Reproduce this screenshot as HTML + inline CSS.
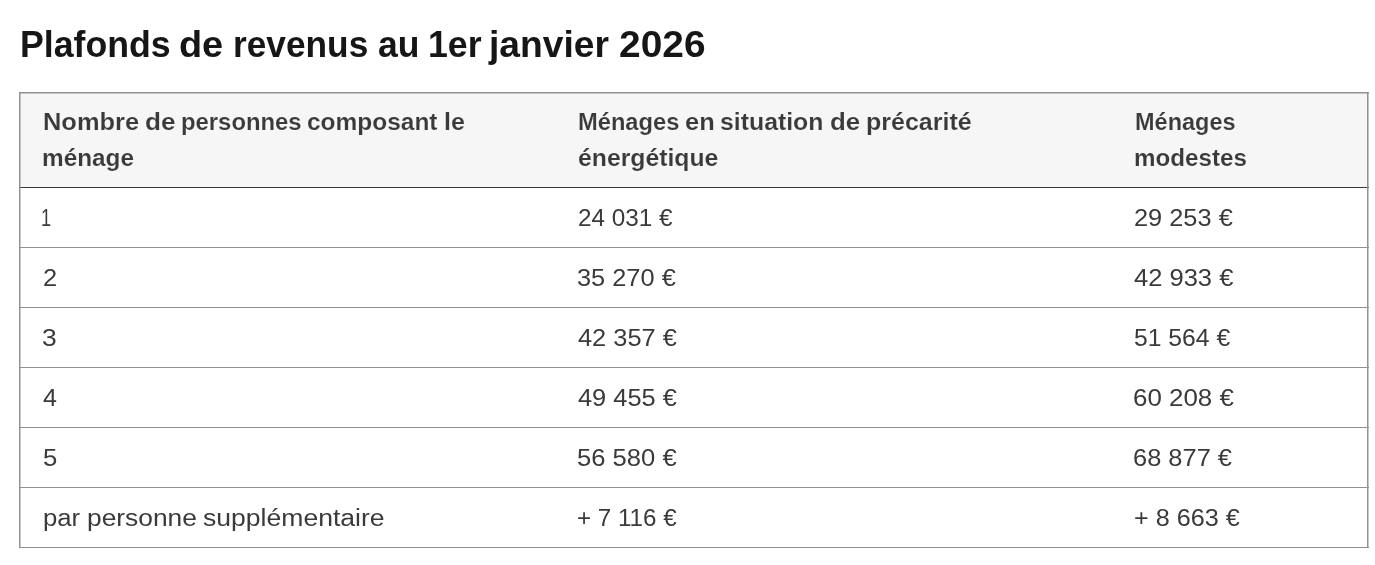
<!DOCTYPE html>
<html lang="fr">
<head>
<meta charset="utf-8">
<title>Plafonds de revenus au 1er janvier 2026</title>
<style>
html,body{margin:0;padding:0;background:#fff;}
body{width:1375px;height:565px;overflow:hidden;position:relative;font-family:"Liberation Sans",sans-serif;color:#3a3a3a;}
h3{position:absolute;left:0;top:24px;width:1375px;height:42px;margin:0;font-size:36px;line-height:42px;font-weight:700;color:#161616;white-space:nowrap;}
h3 span{position:absolute;top:0;transform-origin:0 0;}
.wrap{position:absolute;left:19px;top:92px;width:1350px;height:456px;}
table{position:absolute;left:0;top:0;border-collapse:collapse;table-layout:fixed;width:1350px;border-spacing:0;}
th,td{position:relative;padding:0;text-align:left;vertical-align:top;line-height:36px;white-space:nowrap;box-sizing:border-box;}
th span,td span{position:absolute;top:12px;transform-origin:0 0;}
thead th{height:96px;background:#f6f6f6;font-weight:700;font-size:23.5px;-webkit-text-stroke:0.12px #f6f6f6;}
tbody td{height:60px;font-weight:400;font-size:23.5px;}
.ln{position:absolute;left:0;width:1350px;height:1px;background:#929292;}
.vl{position:absolute;top:0;height:456px;width:1px;background:#929292;}
.hf{opacity:.5;}
</style>
</head>
<body>
<h3><span id="t0" style="left:19.74px;transform:scaleX(0.9908)">Plafonds</span> <span id="t1" style="left:179.15px;transform:scaleX(1.0515)">de</span> <span id="t2" style="left:232.82px;transform:scaleX(0.9795)">revenus</span> <span id="t3" style="left:378.40px;transform:scaleX(0.9850)">au</span> <span id="t4" style="left:427.57px;transform:scaleX(0.9918)">1er</span> <span id="t5" style="left:489.12px;transform:scaleX(1.0339)">janvier</span> <span id="t6" style="left:618.98px;transform:scaleX(1.0805)">2026</span></h3>
<div class="wrap">
<table>
<colgroup><col style="width:536px"><col style="width:556px"><col style="width:258px"></colgroup>
<thead>
<tr>
<th><span id="a1w0" style="left:23.95px;transform:scaleX(1.0824)">Nombre</span> <span id="a1w1" style="left:125.91px;transform:scaleX(1.1115)">de</span> <span id="a1w2" style="left:162.02px;transform:scaleX(1.0149)">personnes</span> <span id="a1w3" style="left:287.96px;transform:scaleX(1.0410)">composant</span> <span id="a1w4" style="left:424.56px;transform:scaleX(1.0646)">le</span><br><span id="a2" style="left:23.02px;top:48px;transform:scaleX(1.0355)">ménage</span></th>
<th><span id="b1w0" style="left:23.15px;transform:scaleX(1.0079)">Ménages</span> <span id="b1w1" style="left:130.38px;transform:scaleX(1.0818)">en</span> <span id="b1w2" style="left:164.99px;transform:scaleX(1.0566)">situation</span> <span id="b1w3" style="left:274.62px;transform:scaleX(1.1010)">de</span> <span id="b1w4" style="left:311.22px;transform:scaleX(1.0639)">précarité</span><br><span id="b2" style="left:23.01px;top:48px;transform:scaleX(1.0538)">énergétique</span></th>
<th><span id="c1" style="left:24.19px;transform:scaleX(0.9994)">Ménages</span><br><span id="c2" style="left:22.75px;top:48px;transform:scaleX(1.0296)">modestes</span></th>
</tr>
</thead>
<tbody>
<tr><td><span id="r0a" style="left:22.34px;transform:scaleX(0.7713)">1</span></td><td><span id="r0b" style="left:23.14px;transform:scaleX(1.0337)">24 031 €</span></td><td><span id="r0c" style="left:23.17px;transform:scaleX(1.0795)">29 253 €</span></td></tr>
<tr><td><span id="r1a" style="left:24.09px;transform:scaleX(1.0823)">2</span></td><td><span id="r1b" style="left:22.34px;transform:scaleX(1.0794)">35 270 €</span></td><td><span id="r1c" style="left:23.09px;transform:scaleX(1.0858)">42 933 €</span></td></tr>
<tr><td><span id="r2a" style="left:23.10px;transform:scaleX(1.1242)">3</span></td><td><span id="r2b" style="left:23.00px;transform:scaleX(1.0805)">42 357 €</span></td><td><span id="r2c" style="left:23.22px;transform:scaleX(1.0513)">51 564 €</span></td></tr>
<tr><td><span id="r3a" style="left:23.98px;transform:scaleX(1.0654)">4</span></td><td><span id="r3b" style="left:23.00px;transform:scaleX(1.0805)">49 455 €</span></td><td><span id="r3c" style="left:22.12px;transform:scaleX(1.1023)">60 208 €</span></td></tr>
<tr><td><span id="r4a" style="left:23.87px;transform:scaleX(1.0954)">5</span></td><td><span id="r4b" style="left:22.43px;transform:scaleX(1.0898)">56 580 €</span></td><td><span id="r4c" style="left:22.29px;transform:scaleX(1.0825)">68 877 €</span></td></tr>
<tr><td><span id="r5aw0" style="left:23.59px;transform:scaleX(1.0951)">par</span> <span id="r5aw1" style="left:68.49px;transform:scaleX(1.1207)">personne</span> <span id="r5aw2" style="left:184.29px;transform:scaleX(1.1302)">supplémentaire</span></td><td><span id="r5b" style="left:22.28px;transform:scaleX(1.0279)">+ 7 116 €</span></td><td><span id="r5c" style="left:22.89px;transform:scaleX(1.0718)">+ 8 663 €</span></td></tr>
</tbody>
</table>
<div class="ln" style="top:0"></div>
<div class="ln hf" style="top:1px"></div>
<div class="ln" style="top:95px;background:#3a3a3a"></div>
<div class="ln" style="top:155px"></div>
<div class="ln" style="top:215px"></div>
<div class="ln" style="top:275px"></div>
<div class="ln" style="top:335px"></div>
<div class="ln" style="top:395px"></div>
<div class="ln" style="top:455px"></div>
<div class="vl" style="left:0"></div>
<div class="vl hf" style="left:1px"></div>
<div class="vl" style="left:1348px"></div>
<div class="vl hf" style="left:1349px"></div>
</div>
</body>
</html>
